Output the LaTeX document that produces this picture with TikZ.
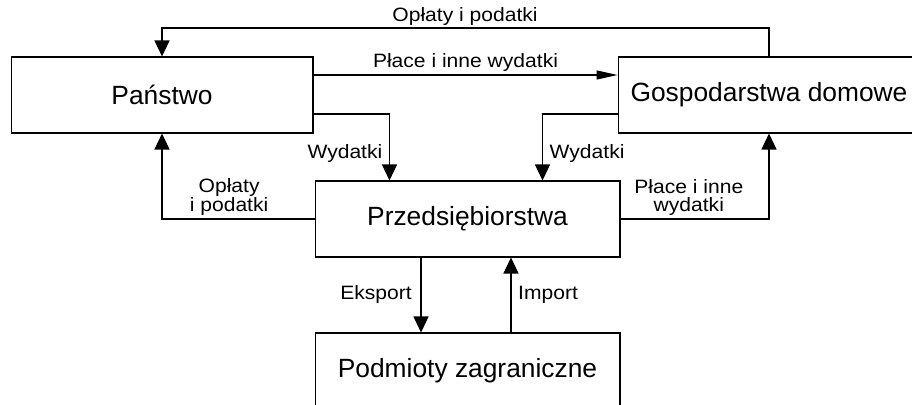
\documentclass[tikz,border=0pt]{standalone}
\usepackage{fontspec}
\setmainfont{Liberation Sans}
\newfontfamily\lblfont[FakeStretch=1.09]{Liberation Sans}
\usepackage{tikz}
\usetikzlibrary{arrows.meta}
\usetikzlibrary{calc}

\tikzset{
  box/.style={draw, line width=0.6pt, inner sep=0pt, minimum height=1.52cm, font=\fontsize{15}{18}\selectfont},
  lbl/.style={font=\lblfont\fontsize{11}{10.2}\selectfont, align=center, inner xsep=3.8pt, inner ysep=1.5pt},
  varr/.style={line width=0.6pt, -{Triangle[length=0.32cm,width=0.3cm]}},
  harr/.style={line width=0.6pt, -{Triangle[length=0.42cm,width=0.18cm]}},
  line/.style={line width=0.6pt}
}

\begin{document}
\begin{tikzpicture}[x=0.02cm,y=-0.02cm]
            \clip (0,0) rectangle (912,405);
            \useasboundingbox (0,0) rectangle (912,405);

            \node[box, minimum width=6.04cm] (panstwo) at (162,95) {Państwo};
            \node[box, minimum width=6.04cm] (gosp) at (769,95) {Gospodarstwa domowe};
            \node[box, minimum width=6.1cm] (przeds) at (467.5,219) {Przedsiębiorstwa};
            \node[box, minimum width=6.1cm] (podmioty) at (467.5,371) {Podmioty zagraniczne};

            \coordinate (topline) at (465,28);
            \draw[line] (gosp.north) |- (topline);
            \draw[varr] (topline) -| (panstwo.north);
            \node[lbl, above] at (topline) {Opłaty i podatki};

            \draw[harr] ([yshift=0.4cm]panstwo.east) -- ([yshift=0.4cm]gosp.west)
                node[lbl, midway, above] {Płace i inne wydatki};

            \draw[varr] ([yshift=-0.38cm]panstwo.east) -| ([xshift=1.5cm]przeds.north west)
                node[lbl, pos=0.8, left] {Wydatki};
            \draw[varr] ([yshift=-0.38cm]gosp.west) -| ([xshift=-1.56cm]przeds.north east)
                node[lbl, pos=0.8, right] {Wydatki};

            \draw[varr] (przeds.west) -| (panstwo.south)
                node[lbl, pos=0.28, above] {Opłaty\\i podatki};
            \draw[varr] (przeds.east) -| (gosp.south)
                node[lbl, pos=0.23, above] {Płace i inne\\wydatki};

            \draw[varr] ([xshift=-0.93cm]przeds.south) -- ([xshift=-0.93cm]podmioty.north)
                node[lbl, midway, left, inner xsep=5pt] {Eksport};
            \draw[varr] ([xshift=0.87cm]podmioty.north) -- ([xshift=0.87cm]przeds.south)
                node[lbl, midway, right] {Import};
        \end{tikzpicture}
\end{document}
